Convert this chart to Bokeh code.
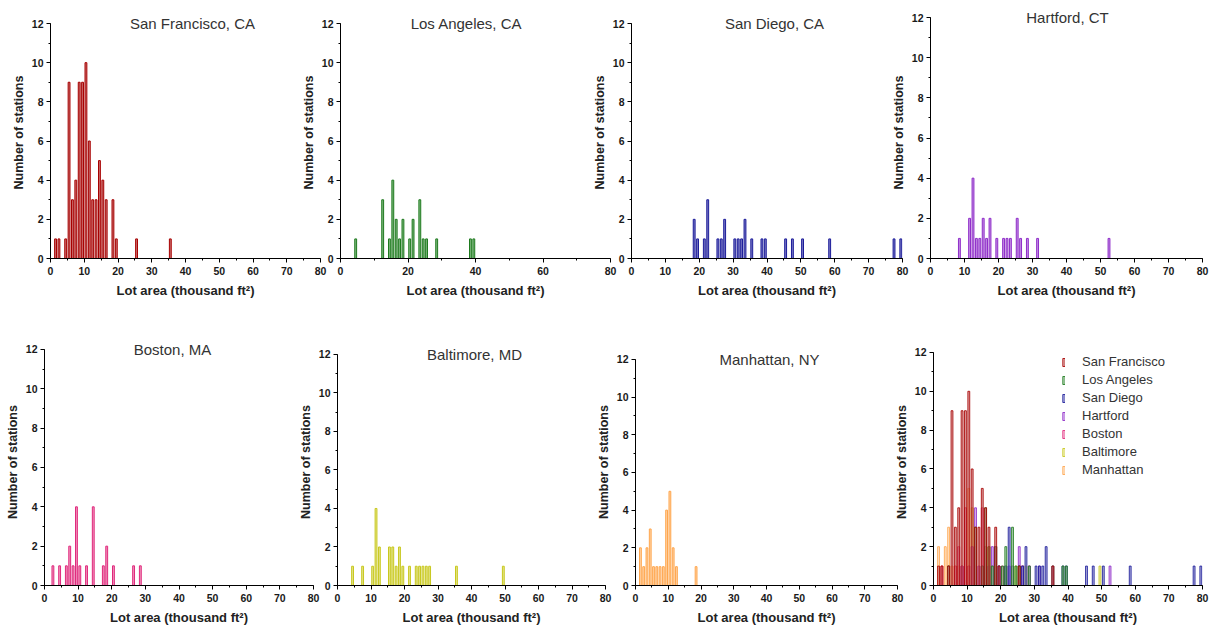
from bokeh.plotting import figure
from bokeh.layouts import row, column
from bokeh.models import Label, Legend, LegendItem, SingleIntervalTicker, Range1d
from bokeh.embed import file_html
from bokeh.resources import INLINE

# ---- data: bin centres (thousand ft^2) and number of stations per bin ----
sf_x = [1.5, 2.5, 4.5, 5.5, 6.5, 7.5, 8.5, 9.5, 10.5, 11.5, 12.5, 13.5, 14.5, 15.5, 16.5, 18.5, 19.5, 25.5, 35.5]
sf_n = [1, 1, 1, 9, 3, 4, 9, 9, 10, 6, 3, 3, 5, 4, 3, 3, 1, 1, 1]
la_x = [4.5, 12.5, 14.5, 15.5, 16.5, 17.5, 18.5, 20.5, 21.5, 23.5, 24.5, 25.5, 28.5, 38.5, 39.5]
la_n = [1, 3, 1, 4, 2, 1, 2, 1, 2, 3, 1, 1, 1, 1, 1]
sd_x = [18.5, 19.5, 21.5, 22.5, 25.5, 26.5, 27.5, 30.5, 31.5, 32.5, 33.5, 35.5, 38.5, 39.5, 45.5, 47.5, 50.5, 58.5, 77.5, 79.5]
sd_n = [2, 1, 1, 3, 1, 1, 2, 1, 1, 1, 2, 1, 1, 1, 1, 1, 1, 1, 1, 1]
hf_x = [8.5, 11.5, 12.5, 13.5, 14.5, 15.5, 16.5, 17.5, 19.5, 21.5, 22.5, 23.5, 25.5, 26.5, 28.5, 31.5, 52.5]
hf_n = [1, 2, 4, 1, 1, 2, 1, 2, 1, 1, 1, 1, 2, 1, 1, 1, 1]
bo_x = [2.5, 4.5, 6.5, 7.5, 8.5, 9.5, 10.5, 12.5, 14.5, 17.5, 18.5, 20.5, 26.5, 28.5]
bo_n = [1, 1, 1, 2, 1, 4, 1, 1, 4, 1, 2, 1, 1, 1]
ba_x = [4.5, 7.5, 10.5, 11.5, 12.5, 15.5, 16.5, 17.5, 18.5, 19.5, 21.5, 23.5, 24.5, 25.5, 26.5, 27.5, 35.5, 49.5]
ba_n = [1, 1, 1, 4, 2, 2, 2, 1, 2, 1, 1, 1, 1, 1, 1, 1, 1, 1]
mn_x = [1.5, 2.5, 3.5, 4.5, 5.5, 6.5, 7.5, 8.5, 9.5, 10.5, 11.5, 12.5, 18.5]
mn_n = [2, 1, 2, 3, 1, 1, 1, 1, 4, 5, 2, 1, 1]

titles = ["San Francisco, CA", "Los Angeles, CA", "San Diego, CA", "Hartford, CT",
          "Boston, MA", "Baltimore, MD", "Manhattan, NY"]
legend_names = ["San Francisco", "Los Angeles", "San Diego", "Hartford",
                "Boston", "Baltimore", "Manhattan"]
x_label = "Lot area (thousand ft²)"
y_label = "Number of stations"

series = [(sf_x, sf_n), (la_x, la_n), (sd_x, sd_n), (hf_x, hf_n),
          (bo_x, bo_n), (ba_x, ba_n), (mn_x, mn_n)]
line_colors = ["#a80000", "#1e7a1e", "#1c1c9a", "#8e2cc8", "#e0287c", "#c8c81e", "#ffa64d"]
fill_colors = ["#c87070", "#80b880", "#7a7ac4", "#c490e4", "#f096bc", "#e4e48c", "#ffd2a6"]

FONT = "Liberation Sans"
BL, BR = 44, 8
BAR_W = 0.55


def make_fig(fl, fr, y12, row_top, row_bottom, frame_top, frame_bottom, prev_right, x_interval=10):
    left = max(fl - BL, prev_right if prev_right == 0 else -10**6)
    width = (fl - left) + (fr - fl) + BR
    # extend the y range above 12 so the in-frame title has room; axis stops at 12
    y_end = 12.0 * (frame_bottom - frame_top) / (frame_bottom - y12)
    p = figure(width=width, height=row_bottom - row_top, title=None,
               x_range=Range1d(0, 80), y_range=Range1d(0, y_end),
               min_border_left=fl - left, min_border_right=BR,
               min_border_top=frame_top - row_top, min_border_bottom=row_bottom - frame_bottom,
               output_backend="svg", toolbar_location=None)
    p.margin = (0, 0, 0, left - prev_right)
    p.background_fill_color = None
    p.border_fill_color = None
    p.outline_line_color = None
    p.xgrid.visible = False
    p.ygrid.visible = False
    p.xaxis.ticker = SingleIntervalTicker(interval=x_interval, num_minor_ticks=2)
    p.yaxis.ticker = SingleIntervalTicker(interval=2, num_minor_ticks=2)
    p.yaxis.bounds = (0, 12)
    p.xaxis.axis_label = x_label
    p.yaxis.axis_label = y_label
    for ax in (p.xaxis[0], p.yaxis[0]):
        ax.axis_line_color = "#000000"
        ax.major_tick_line_color = "#000000"
        ax.minor_tick_line_color = "#000000"
        ax.major_tick_out = 4
        ax.major_tick_in = 0
        ax.minor_tick_out = 2
        ax.minor_tick_in = 0
        ax.major_label_text_font = FONT
        ax.major_label_text_font_style = "bold"
        ax.major_label_text_font_size = "10.5px"
        ax.major_label_text_color = "#1a1a1a"
        ax.major_label_standoff = 3
        ax.axis_label_text_font = FONT
        ax.axis_label_text_font_style = "bold"
        ax.axis_label_text_color = "#222222"
    p.xaxis.axis_label_text_font_size = "13px"
    p.yaxis.axis_label_text_font_size = "12.5px"
    p.xaxis.major_label_standoff = 4
    p.xaxis.axis_label_standoff = 5
    p.yaxis.axis_label_standoff = 3
    return p, left + width


def add_title(p, text, fl, fr, cx):
    p.add_layout(Label(x=(cx - fl) / (fr - fl) * 80, y=12, text=text,
                       text_align="center", text_baseline="middle",
                       text_font=FONT, text_font_size="15px", text_color="#333333"))


# geometry (page px): frame left, frame right, y of the "12" tick, title centre x
row1_top, row1_bottom, row1_ftop, row1_fbot = 0, 334, 6, 258
row2_top, row2_bottom, row2_ftop, row2_fbot = 334, 627, 338, 586
geo1 = [(50, 320, 23, 192), (340, 610, 23, 466), (631, 902, 23, 774), (930, 1202, 17, 1067)]
geo2 = [(44, 313, 349, 172), (337, 605, 354, 474), (635, 897, 359, 769), (933, 1202, 352, None)]

figs1 = []
prev = 0
for i, (fl, fr, y12, cx) in enumerate(geo1):
    p, prev = make_fig(fl, fr, y12, row1_top, row1_bottom, row1_ftop, row1_fbot, prev,
                       x_interval=20 if i == 1 else 10)
    xs, ns = series[i]
    p.vbar(x=xs, top=ns, width=BAR_W, bottom=0, fill_color=fill_colors[i],
           line_color=line_colors[i], line_width=1)
    add_title(p, titles[i], fl, fr, cx)
    figs1.append(p)

figs2 = []
prev = 0
for j, (fl, fr, y12, cx) in enumerate(geo2):
    p, prev = make_fig(fl, fr, y12, row2_top, row2_bottom, row2_ftop, row2_fbot, prev)
    if j < 3:
        i = 4 + j
        xs, ns = series[i]
        p.vbar(x=xs, top=ns, width=BAR_W, bottom=0, fill_color=fill_colors[i],
               line_color=line_colors[i], line_width=1)
        add_title(p, titles[i], fl, fr, cx)
    else:
        rends = []
        for i, (xs, ns) in enumerate(series):
            r = p.vbar(x=xs, top=ns, width=BAR_W, bottom=0, fill_color=fill_colors[i],
                       line_color=line_colors[i], line_width=1, fill_alpha=0.6, line_alpha=0.85)
            rends.append((legend_names[i], r))
        # draw San Francisco on top
        p.renderers = p.renderers[::-1]
        items = [LegendItem(label=name, renderers=[r]) for name, r in rends]
        leg = Legend(items=items, location=(129, 108), orientation="vertical",
                     glyph_width=3, glyph_height=10, label_height=14, spacing=3,
                     label_standoff=17, padding=0, margin=0,
                     label_text_font=FONT, label_text_font_size="13px",
                     label_text_color="#333333", border_line_color=None,
                     background_fill_color=None)
        p.add_layout(leg)
    figs2.append(p)

layout = column(row(*figs1), row(*figs2))
open("out.html", "w").write(file_html(layout, INLINE))
